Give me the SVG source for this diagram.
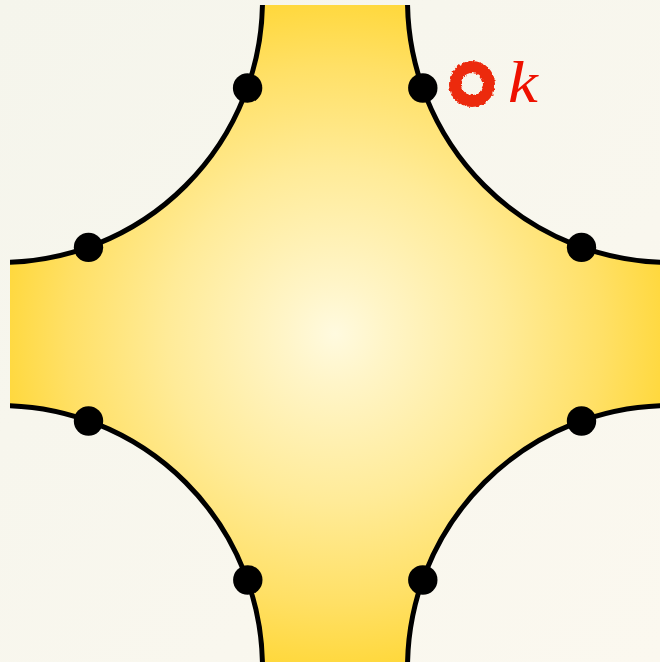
<svg xmlns="http://www.w3.org/2000/svg" width="660" height="662" viewBox="0 0 660 662">
  <defs>
    <linearGradient id="bg" x1="0" y1="0" x2="660" y2="662" gradientUnits="userSpaceOnUse">
      <stop offset="0" stop-color="#f5f5ec"/>
      <stop offset="1" stop-color="#fbf8ef"/>
    </linearGradient>
    <radialGradient id="yel" cx="335" cy="334" r="335" gradientUnits="userSpaceOnUse">
      <stop offset="0" stop-color="#fffadf"/>
      <stop offset="0.15" stop-color="#fff5c8"/>
      <stop offset="0.5" stop-color="#ffeb98"/>
      <stop offset="0.8" stop-color="#ffe066"/>
      <stop offset="1" stop-color="#ffd83c"/>
    </radialGradient>
    <clipPath id="box">
      <rect x="10" y="5" width="650" height="657"/>
    </clipPath>
    <filter id="brush" x="-30%" y="-30%" width="160%" height="160%">
      <feTurbulence type="fractalNoise" baseFrequency="0.35" numOctaves="2" seed="3" result="n"/>
      <feDisplacementMap in="SourceGraphic" in2="n" scale="4" xChannelSelector="R" yChannelSelector="G"/>
    </filter>
    <style>
      .arc { fill: none; stroke: #000; stroke-width: 5; }
      .dot { fill: #000; }
      .lbl { font-family: "Liberation Serif", "DejaVu Serif", serif; font-style: italic; font-size: 60px; fill: #ee1100; }
    </style>
  </defs>

  <rect id="background" x="0" y="0" width="660" height="662" fill="url(#bg)"/>

  <path id="region" d="M262.45,5 L407.55,5 A262.5,262.5 0 0 0 660,262.31 L660,405.69 A262.5,262.5 0 0 0 407.57,662 L262.43,662 A262.5,262.5 0 0 0 10,405.69 L10,262.31 A262.5,262.5 0 0 0 262.45,5 Z" fill="url(#yel)"/>

  <g id="connectors" clip-path="url(#box)">
    <path class="arc" d="M262.5,0 A262.5,262.5 0 0 1 0,262.5"/>
    <path class="arc" d="M407.5,0 A262.5,262.5 0 0 0 670,262.5"/>
    <path class="arc" d="M0,405.5 A262.5,262.5 0 0 1 262.5,668"/>
    <path class="arc" d="M670,405.5 A262.5,262.5 0 0 0 407.5,668"/>
  </g>

  <g id="n1"><circle class="dot" cx="247.6" cy="88" r="14.7"/></g>
  <g id="n2"><circle class="dot" cx="422.8" cy="88" r="14.7"/></g>
  <g id="n3"><circle class="dot" cx="88.5" cy="247.4" r="14.7"/></g>
  <g id="n4"><circle class="dot" cx="581.5" cy="247.4" r="14.7"/></g>
  <g id="n5"><circle class="dot" cx="88.5" cy="421" r="14.7"/></g>
  <g id="n6"><circle class="dot" cx="581.5" cy="421" r="14.7"/></g>
  <g id="n7"><circle class="dot" cx="247.8" cy="580" r="14.7"/></g>
  <g id="n8"><circle class="dot" cx="422.8" cy="580" r="14.7"/></g>

  <g id="marker-k">
    <circle cx="472" cy="84" r="17" fill="none" stroke="#ec2a0e" stroke-width="12" filter="url(#brush)"/>
    <text class="lbl" x="508" y="102" transform="translate(508 0) scale(1.12 1) translate(-508 0)">k</text>
  </g>
</svg>
